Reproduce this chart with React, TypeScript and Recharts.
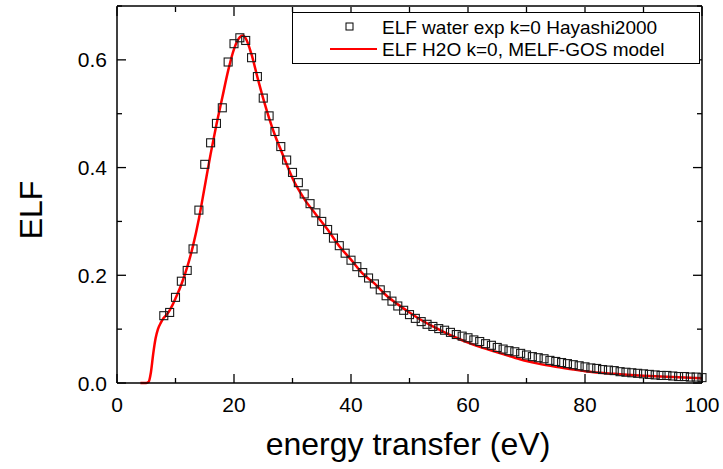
import { ComposedChart, Line, Scatter, XAxis, YAxis, Legend } from 'recharts';

// experimental points (Hayashi 2000), 1 eV step
const expEnergy = [
  8, 9, 10, 11, 12, 13, 14, 15, 16, 17, 18, 19, 20, 21, 22, 23, 24, 25, 26, 27,
  28, 29, 30, 31, 32, 33, 34, 35, 36, 37, 38, 39, 40, 41, 42, 43, 44, 45, 46, 47,
  48, 49, 50, 51, 52, 53, 54, 55, 56, 57, 58, 59, 60, 61, 62, 63, 64, 65, 66, 67,
  68, 69, 70, 71, 72, 73, 74, 75, 76, 77, 78, 79, 80, 81, 82, 83, 84, 85, 86, 87,
  88, 89, 90, 91, 92, 93, 94, 95, 96, 97, 98, 99, 100,
];
const expElf = [
  0.125, 0.131, 0.159, 0.189, 0.209, 0.249, 0.321, 0.406, 0.446, 0.482, 0.511, 0.596, 0.630, 0.641, 0.636, 0.604, 0.569, 0.529, 0.496, 0.467,
  0.439, 0.414, 0.391, 0.372, 0.351, 0.333, 0.316, 0.300, 0.285, 0.269, 0.255, 0.241, 0.228, 0.216, 0.205, 0.195, 0.184, 0.173, 0.162, 0.152,
  0.143, 0.135, 0.127, 0.120, 0.114, 0.109, 0.105, 0.101, 0.098, 0.094, 0.090, 0.087, 0.084, 0.080, 0.077, 0.073, 0.070, 0.066, 0.063, 0.060,
  0.058, 0.055, 0.052, 0.049, 0.047, 0.045, 0.042, 0.040, 0.038, 0.036, 0.034, 0.032, 0.030, 0.028, 0.027, 0.025, 0.024, 0.023, 0.021, 0.020,
  0.019, 0.018, 0.017, 0.016, 0.015, 0.014, 0.014, 0.013, 0.012, 0.012, 0.011, 0.011, 0.010,
];

// MELF-GOS model curve
const modelEnergy = [
  4, 5, 5.4, 5.8, 6.2, 6.6, 7, 7.5, 8, 8.5, 9, 9.5, 10, 11, 12, 13, 14, 15, 16, 17,
  18, 19, 20, 21, 21.5, 22, 23, 24, 25, 26, 27, 28, 29, 30, 32, 34, 36, 38, 40, 42,
  44, 46, 48, 50, 52, 54, 56, 58, 60, 62, 65, 68, 70, 72, 75, 78, 80, 85, 90, 95, 100,
];
const modelElf = [
  0, 0, 0.002, 0.02, 0.055, 0.083, 0.1, 0.112, 0.121, 0.127, 0.135, 0.145, 0.157, 0.183, 0.215, 0.255, 0.305, 0.365, 0.425, 0.48,
  0.53, 0.58, 0.62, 0.642, 0.645, 0.64, 0.61, 0.568, 0.528, 0.492, 0.46, 0.433, 0.406, 0.38, 0.342, 0.313, 0.285, 0.254, 0.229, 0.203,
  0.185, 0.163, 0.146, 0.131, 0.117, 0.105, 0.094, 0.084, 0.075, 0.067, 0.057, 0.047, 0.041, 0.036, 0.03, 0.025, 0.022, 0.017, 0.0135, 0.011, 0.009,
];

const xTicks = [0, 10, 20, 30, 40, 50, 60, 70, 80, 90, 100];
const yTicks = [0, 0.1, 0.2, 0.3, 0.4, 0.5, 0.6, 0.7];

const expData = expEnergy.map((e, i) => ({ e, v: expElf[i] }));
const modelData = modelEnergy.map((e, i) => ({ e, v: modelElf[i] }));

const FONT = '"Liberation Sans", Arial, sans-serif';

const isMajorX = (v: number) => Math.round(v) % 20 === 0;
const isMajorY = (v: number) => Math.round(v * 10) % 2 === 0;

const BottomTick = ({ x, y, payload }: any) => {
  const major = isMajorX(payload.value);
  return (
    <g>
      <line x1={x} x2={x} y1={y} y2={y - (major ? 9 : 5)} stroke="#000" strokeWidth={1.3} />
      {major && (
        <text x={x} y={y + 29} textAnchor="middle" fontSize={21} fontFamily={FONT} fill="#000">
          {payload.value}
        </text>
      )}
    </g>
  );
};

// top axis sits 1px above the plot (height 1), so start the tick at y + 1
const TopTick = ({ x, y, payload }: any) => (
  <line x1={x} x2={x} y1={y + 1} y2={y + 1 + (isMajorX(payload.value) ? 9 : 5)} stroke="#000" strokeWidth={1.3} />
);

const LeftTick = ({ x, y, payload }: any) => {
  const major = isMajorY(payload.value);
  return (
    <g>
      <line x1={x} x2={x + (major ? 9 : 5)} y1={y} y2={y} stroke="#000" strokeWidth={1.3} />
      {major && (
        <text x={x - 10} y={y + 7.5} textAnchor="end" fontSize={21} fontFamily={FONT} fill="#000">
          {payload.value.toFixed(1)}
        </text>
      )}
    </g>
  );
};

const RightTick = ({ x, y, payload }: any) => (
  <line x1={x} x2={x - (isMajorY(payload.value) ? 9 : 5)} y1={y} y2={y} stroke="#000" strokeWidth={1.3} />
);

const SquareDot = ({ cx, cy }: any) => (
  <rect x={cx - 4} y={cy - 4} width={8} height={8} fill="none" stroke="#1a1a1a" strokeWidth={1.1} />
);

const LegendBox = () => (
  <svg width={408} height={52} style={{ display: 'block' }}>
    <rect x={0.5} y={0.5} width={407} height={51} fill="#fff" stroke="#000" strokeWidth={1} />
    <rect x={54} y={11} width={7} height={7} fill="none" stroke="#000" strokeWidth={1} />
    <text x={90} y={22} fontSize={19} fontFamily={FONT} fill="#000">ELF water exp k=0 Hayashi2000</text>
    <line x1={38} x2={85} y1={37} y2={37} stroke="#ff0000" strokeWidth={2} />
    <text x={90} y={44} fontSize={19} fontFamily={FONT} fill="#000">ELF H2O k=0, MELF-GOS model</text>
  </svg>
);

export default function App() {
  return (
    <div style={{ position: 'absolute', left: 0, top: 0, width: 723, height: 469, background: '#fff' }}>
      <ComposedChart width={723} height={469} margin={{ top: 5, right: 20, bottom: 0, left: 0 }}>
        <XAxis
          dataKey="e"
          type="number"
          domain={[0, 100]}
          ticks={xTicks}
          interval={0}
          height={86}
          tickSize={0}
          tickMargin={0}
          tick={<BottomTick />}
          axisLine={{ stroke: '#000', strokeWidth: 1.5 }}
        />
        <XAxis
          xAxisId="top"
          orientation="top"
          dataKey="e"
          type="number"
          domain={[0, 100]}
          ticks={xTicks}
          interval={0}
          height={1}
          tickSize={0}
          tickMargin={0}
          tick={<TopTick />}
          axisLine={{ stroke: '#000', strokeWidth: 1.5 }}
        />
        <YAxis
          type="number"
          domain={[0, 0.7]}
          ticks={yTicks}
          interval={0}
          width={117}
          tickSize={0}
          tickMargin={0}
          tick={<LeftTick />}
          axisLine={{ stroke: '#000', strokeWidth: 1.5 }}
        />
        <YAxis
          yAxisId="right"
          orientation="right"
          type="number"
          domain={[0, 0.7]}
          ticks={yTicks}
          interval={0}
          width={1}
          tickSize={0}
          tickMargin={0}
          tick={<RightTick />}
          axisLine={{ stroke: '#000', strokeWidth: 1.5 }}
        />
        <Scatter
          data={expData}
          dataKey="v"
          xAxisId="top"
          yAxisId="right"
          shape={<SquareDot />}
          isAnimationActive={false}
        />
        <Line
          data={modelData}
          dataKey="v"
          type="monotone"
          stroke="#ff0000"
          strokeWidth={2.5}
          dot={false}
          isAnimationActive={false}
        />
        <Legend
          layout="horizontal"
          verticalAlign="middle"
          align="center"
          content={<LegendBox />}
          wrapperStyle={{ position: 'absolute', left: 292, top: 12, width: 408, height: 52 }}
        />
        <text x={408} y={455} textAnchor="middle" fontSize={32} fontFamily={FONT} fill="#000">
          energy transfer (eV)
        </text>
        <text
          x={0}
          y={0}
          transform="translate(42, 210) rotate(-90)"
          textAnchor="middle"
          fontSize={32}
          fontFamily={FONT}
          fill="#000"
        >
          ELF
        </text>
      </ComposedChart>
    </div>
  );
}
